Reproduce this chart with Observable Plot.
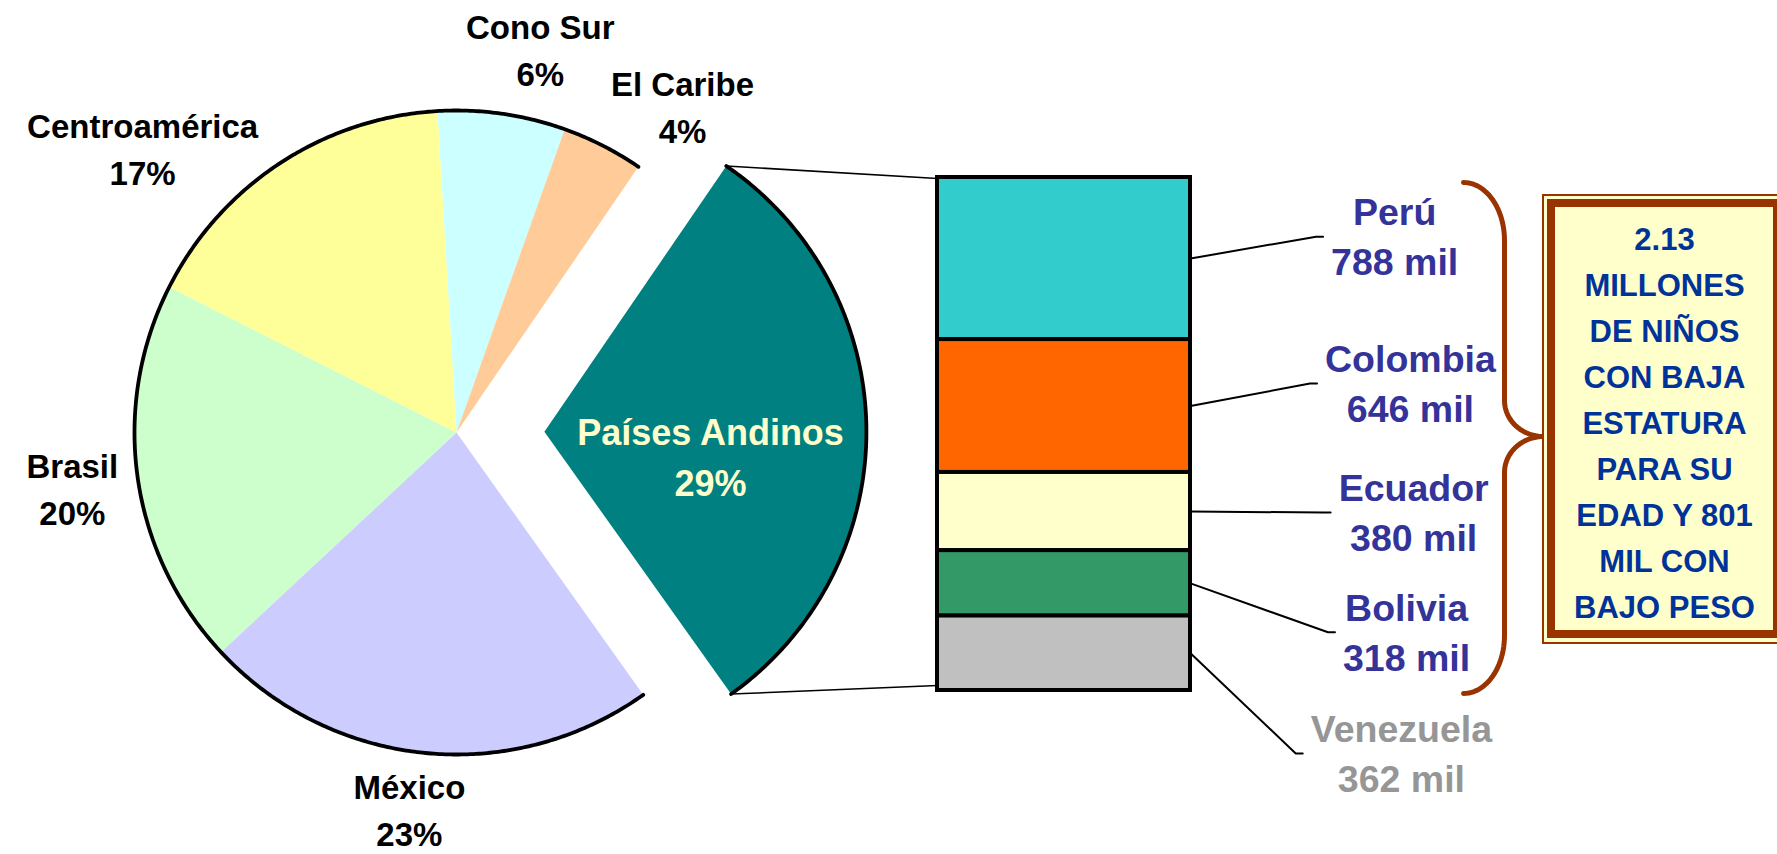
<!DOCTYPE html>
<html>
<head>
<meta charset="utf-8">
<script src="https://cdn.jsdelivr.net/npm/d3@7"></script>
<script src="https://cdn.jsdelivr.net/npm/@observablehq/plot@0.6"></script>
<style>
  html, body { margin: 0; padding: 0; background: #ffffff; overflow: hidden; }
  #chart svg { display: block; }
</style>
</head>
<body>
<div id="chart"></div>
<script>
// ---------------- DATA ----------------
const regions        = ["Cono Sur", "El Caribe", "Países Andinos", "México", "Brasil", "Centroamérica"];
const regionShare    = [6.4, 4.1, 30.6, 22.9, 19.4, 16.6];   // share of the circle
const regionLabel    = ["6%", "4%", "29%", "23%", "20%", "17%"];
const explodedRegion = "Países Andinos";

const andeanCountries = ["Perú", "Colombia", "Ecuador", "Bolivia", "Venezuela"];
const andeanThousands = [788, 646, 380, 318, 362];
const unitSuffix      = "mil";

const summaryLines = ["2.13", "MILLONES", "DE NIÑOS", "CON BAJA", "ESTATURA", "PARA SU", "EDAD Y 801", "MIL CON", "BAJO PESO"];

// ---------------- STYLE ----------------
const regionColors  = ["#CCFFFF", "#FFCC99", "#008080", "#CCCCFF", "#CCFFCC", "#FFFF99"];
const countryColors = ["#33CCCC", "#FF6600", "#FFFFCC", "#339966", "#C0C0C0"];
const countryText   = ["#333399", "#333399", "#333399", "#333399", "#969696"];
const FONT = "'Liberation Sans', Arial, Helvetica, sans-serif";
const brown = "#993300";

// ---------------- LAYOUT (units: 1 = pie radius) ----------------
const W = 1777, H = 854;
const R = 322;               // px per unit
const CX = 456, CY = 432;    // pie centre in px
const px = v => v / R;
const deg = Math.PI / 180;
const pieStart = -3.4 * deg;
const explode = 0.273;

// label anchors (angle clockwise from north in degrees, distance) -> last baseline
const pieLabelAnchor = {
  "Cono Sur": [13.6, 1.106], "El Caribe": [38.0, 1.14], "Países Andinos": [104.0, 0.813],
  "México": [186.5, 1.292], "Brasil": [256.5, 1.227], "Centroamérica": [308.3, 1.242]
};

const bar = { x1: px(937 - CX), x2: px(1190 - CX), top: px(CY - 177), bottom: px(CY - 690) };
// callout block centre offsets from (bar right edge, segment middle)
const calloutDx = [0.634, 0.683, 0.693, 0.671, 0.655];
const calloutDy = [0.068, 0.070, -0.003, -0.152, -0.311];

const brace = { end: px(1463 - CX), spine: px(1504 - CX), tip: px(1543 - CX),
                top: px(CY - 182), bottom: px(CY - 693), mid: px(CY - 436),
                crx: px(41), cry: px(58), trx: px(39), try_: px(36) };

const box = { ox1: px(1543 - CX), ox2: px(1785 - CX), oy1: px(CY - 643), oy2: px(CY - 195),
              ix1: px(1551 - CX), ix2: px(1777 - CX), iy1: px(CY - 634), iy2: px(CY - 203),
              cx: px(1664 - CX), lastBaseline: px(CY - 617) };

// ---------------- GEOMETRY ----------------
const regionRows = regions.map((name, i) => ({ name, share: regionShare[i], label: regionLabel[i] }));
const pie = d3.pie().value(d => d.share).sort(null).startAngle(pieStart).endAngle(pieStart + 2 * Math.PI);
const arcs = pie(regionRows);

const wedgePts = [];
const rimPts = [];
let exploded = null;
for (const s of arcs) {
  const mid = (s.startAngle + s.endAngle) / 2;
  const off = s.data.name === explodedRegion ? explode : 0;
  const ox = off * Math.sin(mid), oy = off * Math.cos(mid);
  const n = Math.max(4, Math.ceil((s.endAngle - s.startAngle) / (0.5 * deg)));
  wedgePts.push({ name: s.data.name, x: ox, y: oy });
  for (let k = 0; k <= n; ++k) {
    const a = s.startAngle + (s.endAngle - s.startAngle) * k / n;
    wedgePts.push({ name: s.data.name, x: ox + Math.sin(a), y: oy + Math.cos(a) });
  }
  wedgePts.push({ name: s.data.name, x: ox, y: oy });
  if (off) {
    exploded = { s, ox, oy };
    for (let k = 0; k <= n; ++k) {
      const a = s.startAngle + (s.endAngle - s.startAngle) * k / n;
      rimPts.push({ part: "exploded", x: ox + Math.sin(a), y: oy + Math.cos(a) });
    }
  }
}
// rim of the remaining pie
{
  const a0 = exploded.s.endAngle, a1 = exploded.s.startAngle + 2 * Math.PI;
  const n = Math.ceil((a1 - a0) / (0.5 * deg));
  for (let k = 0; k <= n; ++k) {
    const a = a0 + (a1 - a0) * k / n;
    rimPts.push({ part: "main", x: Math.sin(a), y: Math.cos(a) });
  }
}

const pieLabels = regionRows.map(d => {
  const [a, r] = pieLabelAnchor[d.name];
  const big = d.name === explodedRegion;
  return { x: r * Math.sin(a * deg), y: r * Math.cos(a * deg), text: `${d.name}\n${d.label}`, big };
});

// connectors from exploded slice to the bar
const exS = exploded.s;
const connectors = [
  { x1: exploded.ox + Math.sin(exS.startAngle), y1: exploded.oy + Math.cos(exS.startAngle), x2: bar.x1, y2: bar.top - px(1) },
  { x1: exploded.ox + Math.sin(exS.endAngle),   y1: exploded.oy + Math.cos(exS.endAngle),   x2: bar.x1, y2: bar.bottom + px(5) }
];

// stacked bar
const total = d3.sum(andeanThousands);
const kScale = (bar.top - bar.bottom) / total;
const cum = d3.cumsum(andeanThousands);
const barRows = andeanCountries.map((name, i) => {
  const y2 = bar.top - (cum[i] - andeanThousands[i]) * kScale;
  const y1 = bar.top - cum[i] * kScale;
  return { name, value: andeanThousands[i], x1: bar.x1, x2: bar.x2, y1, y2, mid: (y1 + y2) / 2 };
});

// text measurement for leader line ends
const ctx = document.createElement("canvas").getContext("2d");
const calloutFontPx = 37.5, calloutLH = 50;
function textW(str, size) { ctx.font = `bold ${size}px ${FONT}`; return ctx.measureText(str).width; }

const calloutLabels = [], leaderPts = [];
barRows.forEach((d, i) => {
  const cx = bar.x2 + calloutDx[i];
  const cy = d.mid + calloutDy[i];
  const line1 = d.name, line2 = `${d.value} ${unitSuffix}`;
  const capH = 0.716 * calloutFontPx;
  const lastBaseline = cy - px((calloutLH + capH) / 2);
  calloutLabels.push({ x: cx, y: lastBaseline, text: `${line1}\n${line2}`, color: countryText[i] });
  const wMax = Math.max(textW(line1, calloutFontPx), textW(line2, calloutFontPx));
  const endX = cx - px(wMax / 2 + 8);
  leaderPts.push({ name: d.name, x: bar.x2, y: d.mid });
  leaderPts.push({ name: d.name, x: endX - px(7), y: cy });
  leaderPts.push({ name: d.name, x: endX, y: cy });
});

// curly brace
const bracePts = [];
const steps = 24;
for (let k = 0; k <= steps; ++k) { const t = k / steps * Math.PI / 2;
  bracePts.push({ x: brace.end + brace.crx * Math.sin(t), y: (brace.top - brace.cry) + brace.cry * Math.cos(t) }); }
for (let k = 0; k <= steps; ++k) { const t = k / steps * Math.PI / 2;
  bracePts.push({ x: brace.tip - brace.trx * Math.cos(t), y: (brace.mid + brace.try_) - brace.try_ * Math.sin(t) }); }
for (let k = steps; k >= 0; --k) { const t = k / steps * Math.PI / 2;
  bracePts.push({ x: brace.tip - brace.trx * Math.cos(t), y: (brace.mid - brace.try_) + brace.try_ * Math.sin(t) }); }
for (let k = 0; k <= steps; ++k) { const t = k / steps * Math.PI / 2;
  bracePts.push({ x: brace.end + brace.crx * Math.cos(t), y: (brace.bottom + brace.cry) - brace.cry * Math.sin(t) }); }

// ---------------- PLOT ----------------
const colorDomain = [...regions, ...andeanCountries];
const colorRange = [...regionColors, ...countryColors];

const chart = Plot.plot({
  width: W, height: H,
  margin: 0,
  style: { background: "#ffffff", fontFamily: FONT },
  x: { domain: [px(-CX), px(W - CX)], range: [0, W], axis: null },
  y: { domain: [px(-(H - CY)), px(CY)], range: [H, 0], axis: null },
  color: { domain: colorDomain, range: colorRange },
  marks: [
    // pie wedges
    Plot.line(wedgePts, { x: "x", y: "y", z: "name", fill: "name", stroke: "none", curve: "linear" }),
    // black rims
    Plot.line(rimPts, { x: "x", y: "y", z: "part", stroke: "#000000", strokeWidth: 3.8, fill: "none", strokeLinejoin: "round" }),
    // connectors
    Plot.link(connectors, { x1: "x1", y1: "y1", x2: "x2", y2: "y2", stroke: "#000000", strokeWidth: 1.6 }),
    // stacked bar
    Plot.rect(barRows, { x1: "x1", x2: "x2", y1: "y1", y2: "y2", fill: "name", stroke: "#000000", strokeWidth: 4 }),
    // leaders
    Plot.line(leaderPts, { x: "x", y: "y", z: "name", stroke: "#000000", strokeWidth: 2, fill: "none" }),
    // brace
    Plot.line(bracePts, { x: "x", y: "y", stroke: brown, strokeWidth: 5, fill: "none", strokeLinejoin: "round" }),
    // summary box
    Plot.rect([box], { x1: "ox1", x2: "ox2", y1: "oy1", y2: "oy2", fill: "#FFFFCC", stroke: brown, strokeWidth: 2, clip: true }),
    Plot.rect([box], { x1: "ix1", x2: "ix2", y1: "iy1", y2: "iy2", fill: "#FFFFCC", stroke: brown, strokeWidth: 8, clip: true }),
    Plot.text([{ x: box.cx, y: box.lastBaseline, text: summaryLines.join("\n") }], {
      x: "x", y: "y", text: "text", lineAnchor: "bottom", lineHeight: 46 / 31,
      fontSize: 31, fontWeight: "bold", fontFamily: FONT, fill: "#003399"
    }),
    // pie labels
    Plot.text(pieLabels.filter(d => !d.big), {
      x: "x", y: "y", text: "text", lineAnchor: "bottom", lineHeight: 47 / 33,
      fontSize: 33, fontWeight: "bold", fontFamily: FONT, fill: "#000000"
    }),
    Plot.text(pieLabels.filter(d => d.big), {
      x: "x", y: "y", text: "text", lineAnchor: "bottom", lineHeight: 51 / 36,
      fontSize: 36, fontWeight: "bold", fontFamily: FONT, fill: "#FFFFCC"
    }),
    // callout labels
    Plot.text(calloutLabels, {
      x: "x", y: "y", text: "text", lineAnchor: "bottom", lineHeight: calloutLH / calloutFontPx,
      fontSize: calloutFontPx, fontWeight: "bold", fontFamily: FONT, fill: "color"
    })
  ]
});
document.getElementById("chart").appendChild(chart);
</script>
</body>
</html>
